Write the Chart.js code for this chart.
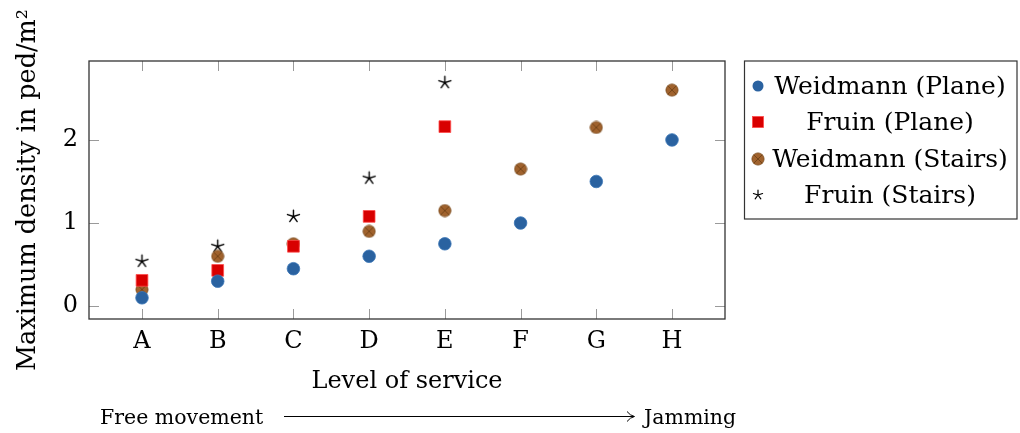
<!DOCTYPE html>
<html><head><meta charset="utf-8">
<script src="https://cdn.jsdelivr.net/npm/chart.js@4/dist/chart.umd.min.js"></script>
<style>html,body{margin:0;padding:0;background:#fff}#wrap{width:1020px;height:433px}</style>
</head><body><div id="wrap"><canvas id="c" width="1020" height="433"></canvas></div>
<script>
const categories = ['A','B','C','D','E','F','G','H'];
const weidmannPlane = [0.1, 0.3, 0.45, 0.6, 0.75, 1.0, 1.5, 2.0];
const fruinPlane = [0.31, 0.43, 0.72, 1.08, 2.16];
const weidmannStairs = [0.2, 0.6, 0.75, 0.9, 1.15, 1.65, 2.15, 2.6];
const fruinStairs = [0.54, 0.72, 1.08, 1.54, 2.69];
const yTicks = [0, 1, 2];
const seriesNames = ['Weidmann (Plane)', 'Fruin (Plane)', 'Weidmann (Stairs)', 'Fruin (Stairs)'];
const xTitle = 'Level of service';
const yTitle = 'Maximum density in ped/m\u00B2';
const arrowLeft = 'Free movement';
const arrowRight = 'Jamming';

const SERIF = "'DejaVu Serif', 'Liberation Serif', serif";

function makeOtimes(scale) {
  const s = Math.round(14 * scale), c = document.createElement('canvas');
  c.width = s; c.height = s;
  const g = c.getContext('2d'), r = 6.1 * scale, m = s / 2;
  g.beginPath(); g.arc(m, m, r, 0, Math.PI * 2);
  g.fillStyle = '#a0622d'; g.fill();
  g.lineWidth = 0.8; g.strokeStyle = '#7a4a1c'; g.stroke();
  const d = r * 0.7071;
  g.beginPath(); g.moveTo(m - d, m - d); g.lineTo(m + d, m + d);
  g.moveTo(m + d, m - d); g.lineTo(m - d, m + d);
  g.lineWidth = 0.8; g.strokeStyle = '#6a3d14'; g.stroke();
  return c;
}
function makeStar(len, lw) {
  const s = Math.ceil(len * 2 + 4), c = document.createElement('canvas');
  c.width = s; c.height = s;
  const g = c.getContext('2d'), m = s / 2;
  g.beginPath();
  for (let k = 0; k < 5; k++) {
    const a = -Math.PI / 2 + k * 2 * Math.PI / 5;
    g.moveTo(m, m); g.lineTo(m + len * Math.cos(a), m + len * Math.sin(a));
  }
  g.lineWidth = lw; g.strokeStyle = '#000'; g.lineCap = 'round'; g.stroke();
  return c;
}
const otimesImg = makeOtimes(1);
const starImg = makeStar(6.3, 1.4);
const starLegendImg = makeStar(4.8, 1.2);

const toPts = arr => arr.map((v, i) => ({x: i, y: v}));

const datasets = [
  {label: seriesNames[0], data: toPts(weidmannPlane), pointStyle: 'circle', pointRadius: 6.3,
   backgroundColor: '#2a62a0', borderColor: '#3b76b6', borderWidth: 0.8},
  {label: seriesNames[1], data: toPts(fruinPlane), pointStyle: 'rect', pointRadius: 8.3,
   backgroundColor: '#d80000', borderColor: '#ff4a4a', borderWidth: 0.8},
  {label: seriesNames[2], data: toPts(weidmannStairs), pointStyle: otimesImg, pointRadius: 6},
  {label: seriesNames[3], data: toPts(fruinStairs), pointStyle: starImg, pointRadius: 6}
];

const framePlugin = {
  id: 'frame',
  afterDraw(chart) {
    const {ctx, chartArea: a, scales: {x, y}} = chart;
    ctx.save();
    ctx.strokeStyle = '#9a9a9a'; ctx.lineWidth = 1;
    ctx.beginPath();
    categories.forEach((c, i) => {
      const px = Math.round(x.getPixelForValue(i)) + 0.5;
      ctx.moveTo(px, a.bottom); ctx.lineTo(px, a.bottom - 10);
      ctx.moveTo(px, a.top); ctx.lineTo(px, a.top + 10);
    });
    yTicks.forEach(v => {
      const py = Math.round(y.getPixelForValue(v)) + 0.5;
      ctx.moveTo(a.left, py); ctx.lineTo(a.left + 10, py);
      ctx.moveTo(a.right, py); ctx.lineTo(a.right - 10, py);
    });
    ctx.stroke();
    ctx.strokeStyle = '#333'; ctx.lineWidth = 1.3;
    ctx.strokeRect(a.left, a.top, a.right - a.left, a.bottom - a.top);

    const lx = 744.5, ly = 61, lw = 272.5, lh = 158;
    ctx.strokeStyle = '#333'; ctx.lineWidth = 1.2;
    ctx.strokeRect(lx, ly, lw, lh);
    const rows = [86, 122, 159, 195];
    const mx = 758, tx = 890;
    ctx.font = "25px " + SERIF;
    ctx.fillStyle = '#000'; ctx.textAlign = 'center'; ctx.textBaseline = 'middle';
    datasets.forEach((ds, i) => {
      const yy = rows[i];
      if (i === 0) {
        ctx.beginPath(); ctx.arc(mx, yy, 5.5, 0, Math.PI * 2);
        ctx.fillStyle = ds.backgroundColor; ctx.fill();
      } else if (i === 1) {
        ctx.fillStyle = ds.backgroundColor; ctx.fillRect(mx - 5.5, yy - 5.5, 11, 11);
        ctx.strokeStyle = ds.borderColor; ctx.lineWidth = 0.8; ctx.strokeRect(mx - 5.5, yy - 5.5, 11, 11);
      } else if (i === 2) {
        ctx.drawImage(otimesImg, mx - otimesImg.width / 2, yy - otimesImg.height / 2);
      } else {
        ctx.drawImage(starLegendImg, mx - starLegendImg.width / 2, yy - starLegendImg.height / 2);
      }
      ctx.fillStyle = '#000';
      ctx.fillText(ds.label, tx, yy + 1);
    });

    ctx.font = "20.5px " + SERIF;
    ctx.textBaseline = 'alphabetic';
    ctx.textAlign = 'left';
    ctx.fillText(arrowLeft, 100, 424);
    ctx.fillText(arrowRight, 644, 424);
    ctx.strokeStyle = '#000'; ctx.lineWidth = 1;
    ctx.beginPath();
    ctx.moveTo(284, 416.5); ctx.lineTo(634, 416.5);
    ctx.moveTo(627, 411.5); ctx.quadraticCurveTo(630, 415.5, 634.5, 416.5);
    ctx.quadraticCurveTo(630, 417.5, 627, 421.5);
    ctx.stroke();
    ctx.restore();
  }
};

new Chart(document.getElementById('c'), {
  type: 'scatter',
  data: {datasets},
  options: {
    responsive: false, animation: false, devicePixelRatio: 1,
    layout: {padding: {top: 61, right: 295, left: 0, bottom: 0}},
    plugins: {legend: {display: false}, tooltip: {enabled: false}},
    scales: {
      x: {
        type: 'linear', min: -0.7, max: 7.7,
        afterBuildTicks: s => { s.ticks = categories.map((c, i) => ({value: i})); },
        afterFit: s => { s.height = 114; },
        grid: {display: false, drawTicks: false}, border: {display: false},
        ticks: {callback: v => categories[v], color: '#000', padding: 8, maxRotation: 0,
                font: {family: SERIF, size: 24}},
        title: {display: true, text: xTitle, color: '#000', font: {family: SERIF, size: 24},
                padding: {top: 0, bottom: 37}}
      },
      y: {
        min: -0.155, max: 2.95,
        afterBuildTicks: s => { s.ticks = yTicks.map(v => ({value: v})); },
        afterFit: s => { s.width = 89; },
        grid: {display: false, drawTicks: false}, border: {display: false},
        ticks: {callback: v => String(v), color: '#000', padding: 11,
                font: {family: SERIF, size: 24}},
        title: {display: true, text: yTitle, color: '#000', font: {family: SERIF, size: 25.5},
                padding: {top: 13, bottom: 0}}
      }
    }
  },
  plugins: [framePlugin]
});
</script>
</body></html>
